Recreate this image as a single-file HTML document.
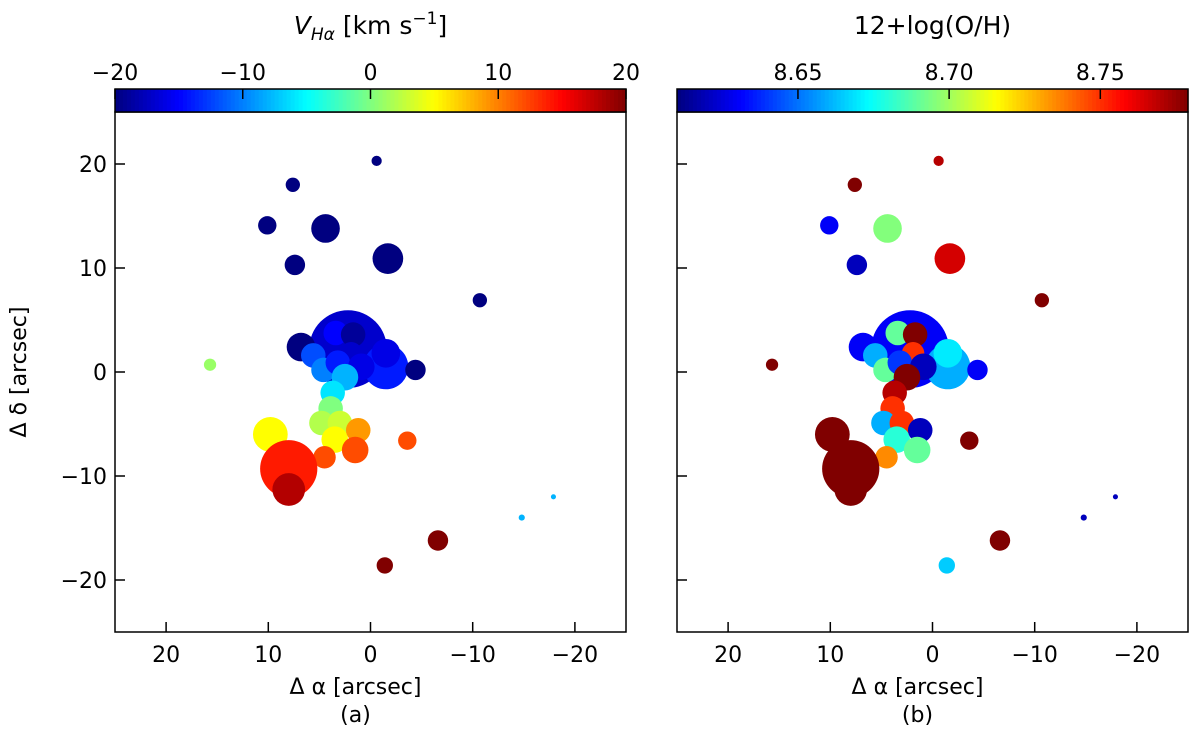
<!DOCTYPE html>
<html><head><meta charset="utf-8"><style>
body{margin:0;background:#fff;font-family:"Liberation Sans","DejaVu Sans",sans-serif;}
svg text{font-family:"DejaVu Sans","Liberation Sans",sans-serif;}
</style></head><body>
<svg id="fig" width="1200" height="744" viewBox="0 0 1200 744" xmlns="http://www.w3.org/2000/svg">
<g id="pa"></g>
<g id="pb"></g>
</svg>
<script>
// region data: [alpha arcsec, delta arcsec, radius arcsec]
const blobPos = [[2.2,2.2,3.8],[-1.5,0.5,2.2],
[-0.6,20.3,0.5],[7.6,18,0.7],[10.1,14.1,0.9],[4.4,13.8,1.4],[7.4,10.3,1.0],[-1.7,10.9,1.5],[-10.7,6.9,0.7],
[6.8,2.4,1.4],[5.6,1.6,1.2],[4.6,0.2,1.2],[3.4,3.75,1.2],[1.7,3.6,1.2],[1.9,1.8,1.1],[3.2,0.9,1.2],[0.9,0.5,1.3],[-1.5,1.8,1.4],
[2.5,-0.5,1.3],[3.7,-2,1.2],[3.9,-3.5,1.2],[4.8,-4.9,1.2],[3,-4.9,1.2],[3.5,-6.5,1.3],[1.2,-5.6,1.2],[1.5,-7.5,1.3],
[-4.4,0.2,1.0],[15.7,0.7,0.6],[9.8,-6,1.7],[4.5,-8.2,1.1],[8,-9.3,2.8],[8,-11.3,1.6],[-3.6,-6.6,0.9],
[-6.6,-16.2,1.0],[-1.4,-18.6,0.8],[-14.8,-14,0.3],[-17.9,-12,0.25]];
// left values: V_Halpha km/s
const velVals = [-17,-14,-20,-20,-20,-20,-20,-20,-20,-20,-12,-10,-15,-19,-17,-14,-16,-16,-8,-6,0,2,3,5,9,12,-20,1,5,12,14,18,12,20,20,-8,-8];
// right values: 12+log(O/H)
const ohVals = [8.63,8.66,8.77,8.78,8.63,8.695,8.62,8.765,8.78,8.63,8.66,8.69,8.69,8.78,8.75,8.64,8.62,8.67,8.78,8.77,8.75,8.66,8.75,8.68,8.62,8.69,8.63,8.78,8.78,8.735,8.78,8.78,8.78,8.78,8.665,8.62,8.62];
const xTicks=[20,10,0,-10,-20], yTicks=[20,10,0,-10,-20];
const velTicks=[-20,-10,0,10,20], ohTicks=[8.65,8.70,8.75];

function jet(t){t=Math.max(0,Math.min(1,t));
 const c=v=>Math.round(255*Math.max(0,Math.min(1,v)));
 return `rgb(${c(1.5-Math.abs(4*t-3))},${c(1.5-Math.abs(4*t-2))},${c(1.5-Math.abs(4*t-1))})`;}
const NS="http://www.w3.org/2000/svg";
function mk(p,tag,at,txt){const e=document.createElementNS(NS,tag);for(const k in at)e.setAttribute(k,at[k]);if(txt!==undefined)e.textContent=txt;p.appendChild(e);return e;}
const T=112,B=632,W=511;
function panel(g,X0,vals,vmin,vmax,cticks,cfmt,title,lab,showY){
 const sx=a=>X0+(25-a)*W/50, sy=d=>T+(25-d)*(B-T)/50;
 const map=mk(g,'g',{});
 
 blobPos.forEach((b,i)=>{const r=b[2]*W/50;
  const c=mk(map,'circle',{cx:sx(b[0]),cy:sy(b[1]),r:r,fill:jet((vals[i]-vmin)/(vmax-vmin))});
  });
 const fr=mk(g,'rect',{x:X0,y:T,width:W,height:B-T,fill:'none',stroke:'#000','stroke-width':1.5});
 
 xTicks.forEach(v=>{const x=sx(v);mk(g,'line',{x1:x,x2:x,y1:B,y2:B-10,stroke:'#000','stroke-width':1.5});
  const t=mk(g,'text',{x:x,y:B+30,'font-size':22,'text-anchor':'middle'},v<0?'\u2212'+(-v):v);
  });
 yTicks.forEach(v=>{const y=sy(v);mk(g,'line',{x1:X0,x2:X0+10,y1:y,y2:y,stroke:'#000','stroke-width':1.5});
  if(showY){const t=mk(g,'text',{x:X0-8,y:y+8,'font-size':22,'text-anchor':'end'},v<0?'\u2212'+(-v):v);
  }});
 const xl=mk(g,'text',{x:X0+W/2-15,y:B+62,'font-size':22,'text-anchor':'middle'},'\u0394 \u03b1 [arcsec]');
 
 const pl=mk(g,'text',{x:X0+W/2-15,y:B+90,'font-size':22,'text-anchor':'middle'},lab);
 
 const cb=mk(g,'g',{});
 const n=128;for(let i=0;i<n;i++)mk(cb,'rect',{x:X0+i*W/n,y:89,width:W/n+0.6,height:23,fill:jet((i+0.5)/n)});
 mk(cb,'rect',{x:X0,y:89,width:W,height:23,fill:'none',stroke:'#000','stroke-width':1.5});
 cticks.forEach(v=>{const x=X0+(v-vmin)/(vmax-vmin)*W;
  mk(cb,'line',{x1:x,x2:x,y1:89,y2:99,stroke:'#000','stroke-width':1.5});
  const t=mk(cb,'text',{x:x,y:80,'font-size':22,'text-anchor':'middle'},cfmt(v));
  });
 const ct=mk(g,'text',{x:X0+W/2,y:34,'font-size':25,'text-anchor':'middle'});
 ct.innerHTML=title;
}
panel(document.getElementById('pa'),115,velVals,-20,20,velTicks,v=>v<0?'\u2212'+(-v):''+v,
 '<tspan font-style="italic">V</tspan><tspan font-style="italic" font-size="17" dy="6">H\u03b1</tspan><tspan dy="-6"> [km s</tspan><tspan font-size="17" dy="-10">\u22121</tspan><tspan dy="10">]</tspan>','(a)',true);
panel(document.getElementById('pb'),677,ohVals,8.61,8.779,ohTicks,v=>v.toFixed(2),'12+log(O/H)','(b)',false);
const yl=mk(document.getElementById('fig'),'text',{x:0,y:0,'font-size':22,'text-anchor':'middle',transform:'translate(26,372) rotate(-90)'},'\u0394 \u03b4 [arcsec]');

</script>
</body></html>
